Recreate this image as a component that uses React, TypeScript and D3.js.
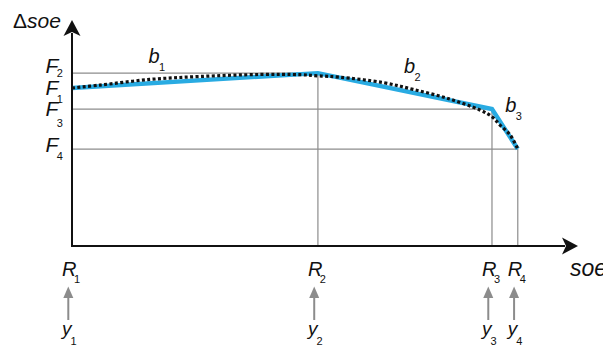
import React from "react";
import * as d3 from "d3";

// breakpoints (soe) and their Δsoe values
const breakLabels = ["1", "2", "3", "4"];
const breakSoe = [0, 48.6, 83.0, 88.1];
const breakF = [69.9, 76.5, 60.6, 42.9];
// F labels on the Δsoe axis (top -> bottom)
const fLabelOrder = ["2", "1", "3", "4"];
const fLabelValues = [76.5, 69.9, 60.6, 42.9];

// fitted (dotted) curve
const curveSoe = [0, 5.5, 15.4, 25.3, 37.2, 45.1, 48.6, 52.9, 61.5, 67.4, 74.1, 80.6, 83.0, 84.6, 86.6, 88.1];
const curveDelta = [69.9, 71.2, 73.7, 75.0, 75.9, 75.8, 75.3, 74.7, 72.3, 69.3, 65.4, 60.2, 57.2, 53.5, 49.1, 42.9];

// segment labels b1..b3
const segLabels = ["1", "2", "3"];
const segSoe = [15.1, 65.6, 85.6];
const segDelta = [80.8, 76.4, 59.4];

const W = 603;
const H = 346;

// layout offsets for the F labels (baseline and subscript shift)
const fBaseShift = [-0.5, 7, 7, 2.7];
const fSubShift = [4.8, 8, 11.3, 8.3];

export default function App() {
  const x = d3.scaleLinear().domain([0, 100]).range([72, 578]);
  const y = d3.scaleLinear().domain([0, 100]).range([246, 20]);

  const blueLine = d3
    .line<number>()
    .x((_, i) => x(breakSoe[i]))
    .y((d) => y(d));
  const dotLine = d3
    .line<number>()
    .x((_, i) => x(curveSoe[i]))
    .y((d) => y(d))
    .curve(d3.curveCatmullRom.alpha(0.5));

  const x0 = x(0);
  const y0 = y(0);
  const font = "'Liberation Sans', Arial, sans-serif";
  const gray = "#8c8c8c";

  const xTip = x(100);
  const yTip = y(100);
  const xArrow = `M${xTip},${y0} L${xTip - 16},${y0 - 8.5} L${xTip - 12},${y0} L${xTip - 16},${y0 + 8.5} Z`;
  const yArrow = `M${x0},${yTip} L${x0 - 8.5},${yTip + 16} L${x0},${yTip + 12} L${x0 + 8.5},${yTip + 16} Z`;

  return (
    <svg
      width={W}
      height={H}
      style={{ position: "absolute", left: 0, top: 0, background: "#fff" }}
      fontFamily={font}
    >
      {/* gray guide lines */}
      {breakSoe.slice(1).map((s, i) => (
        <g key={"g" + i}>
          <line x1={x0} x2={x(s)} y1={y(breakF[i + 1])} y2={y(breakF[i + 1])} stroke={gray} strokeWidth={1.2} />
          <line x1={x(s)} x2={x(s)} y1={y(breakF[i + 1])} y2={y0} stroke={gray} strokeWidth={1.2} />
        </g>
      ))}

      {/* blue piecewise line */}
      <path d={blueLine(breakF) || ""} fill="none" stroke="#29abe2" strokeWidth={4.4} strokeLinejoin="miter" />
      {/* dotted fitted curve */}
      <path d={dotLine(curveDelta) || ""} fill="none" stroke="#111" strokeWidth={3.2} strokeDasharray="3 2.4" />

      {/* axes */}
      <line x1={x0} x2={xTip - 13} y1={y0} y2={y0} stroke="#111" strokeWidth={2} />
      <line x1={x0} x2={x0} y1={y0 + 1} y2={yTip + 13} stroke="#111" strokeWidth={2} />
      <path d={xArrow} fill="#111" />
      <path d={yArrow} fill="#111" />

      {/* axis titles */}
      <text x={13} y={27.5} fontSize={21} fill="#111">
        Δ<tspan fontStyle="italic">soe</tspan>
      </text>
      <text x={570} y={276} fontSize={23} fontStyle="italic" fill="#111">
        soe
      </text>

      {/* F labels */}
      {fLabelOrder.map((k, i) => (
        <text
          key={"F" + k}
          x={45.5}
          y={y(fLabelValues[i]) + fBaseShift[i]}
          fontSize={21}
          fontStyle="italic"
          fill="#111"
        >
          F
          <tspan fontSize={11} fontStyle="normal" dx={-1.5} dy={fSubShift[i]}>
            {k}
          </tspan>
        </text>
      ))}

      {/* R labels, arrows and y labels */}
      {breakSoe.map((s, i) => {
        const px = x(s);
        const ax = px - 3.7;
        return (
          <g key={"R" + i}>
            <text x={px - 10} y={276} fontSize={20} fontStyle="italic" fill="#111">
              R
              <tspan fontSize={11} fontStyle="normal" dx={-2.5} dy={7}>
                {breakLabels[i]}
              </tspan>
            </text>
            <line x1={ax} x2={ax} y1={320} y2={296} stroke={gray} strokeWidth={2} />
            <path d={`M${ax},${286.5} L${ax - 5},${298} L${ax + 5},${298} Z`} fill={gray} />
            <text x={px - 10} y={335} fontSize={19} fontStyle="italic" fill="#111">
              y
              <tspan fontSize={11} fontStyle="normal" dx={-1} dy={9.5}>
                {breakLabels[i]}
              </tspan>
            </text>
          </g>
        );
      })}

      {/* b labels */}
      {segLabels.map((k, i) => (
        <text key={"b" + k} x={x(segSoe[i])} y={y(segDelta[i])} fontSize={20} fontStyle="italic" fill="#111">
          b
          <tspan fontSize={11} fontStyle="normal" dx={-0.5} dy={8}>
            {k}
          </tspan>
        </text>
      ))}
    </svg>
  );
}
